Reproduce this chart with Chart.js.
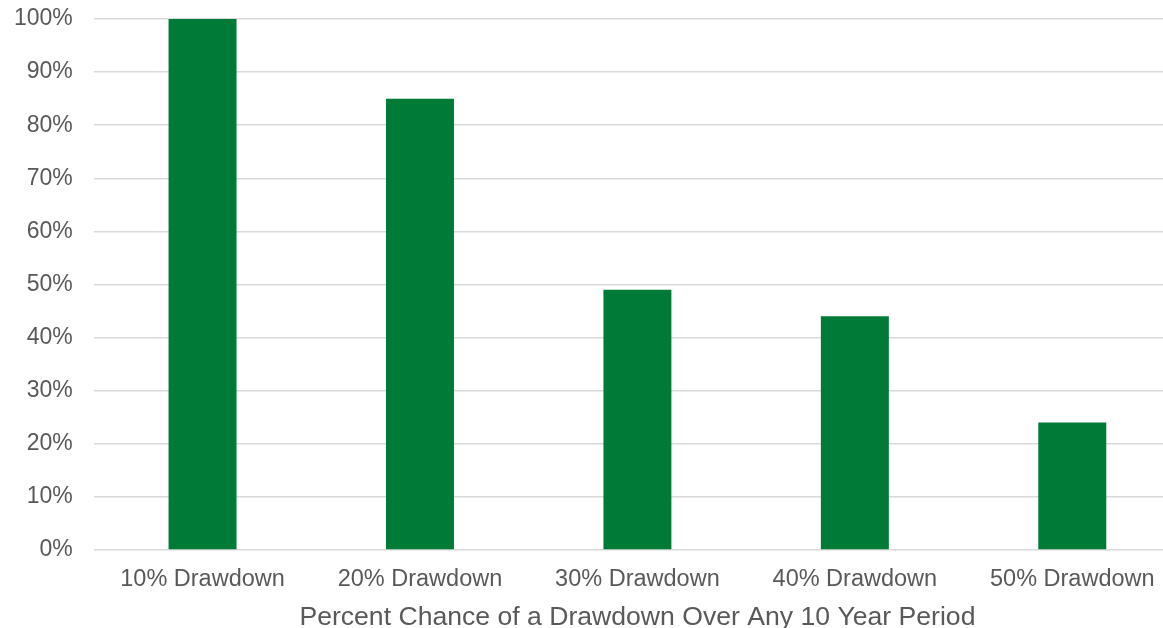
<!DOCTYPE html>
<html>
<head>
<meta charset="utf-8">
<script src="https://cdn.jsdelivr.net/npm/chart.js@4"></script>
<style>
  html, body { margin: 0; padding: 0; background: #ffffff; overflow: hidden; width: 1163px; height: 628px; }
  #wrap { width: 1181px; height: 628px; }
</style>
</head>
<body>
<div id="wrap"><canvas id="c" width="1181" height="628"></canvas></div>
<script>
const categories = ['10% Drawdown', '20% Drawdown', '30% Drawdown', '40% Drawdown', '50% Drawdown'];
const chanceValues = [100, 85, 49, 44, 24];
const yTickValues = [0, 10, 20, 30, 40, 50, 60, 70, 80, 90, 100];
const xAxisTitle = 'Percent Chance of a Drawdown Over Any 10 Year Period';

const textColor = '#595959';
const fontFamily = '"Liberation Sans", Arial, sans-serif';

new Chart(document.getElementById('c'), {
  type: 'bar',
  data: {
    labels: categories,
    datasets: [{
      data: chanceValues,
      backgroundColor: '#007A37',
      borderWidth: 0,
      barPercentage: 1,
      categoryPercentage: 0.3126
    }]
  },
  options: {
    responsive: false,
    animation: false,
    devicePixelRatio: 1,
    layout: { padding: { left: -7, right: 0, top: 19, bottom: -6 } },
    plugins: { legend: { display: false }, tooltip: { enabled: false } },
    scales: {
      x: {
        grid: { display: false },
        border: { display: false },
        ticks: {
          color: textColor,
          font: { family: fontFamily, size: 23.5 },
          padding: 7.5,
          maxRotation: 0,
          autoSkip: false
        },
        title: {
          display: true,
          text: xAxisTitle,
          color: textColor,
          font: { family: fontFamily, size: 26.6 },
          padding: { top: 1, bottom: 0 }
        }
      },
      y: {
        min: 0,
        max: 100,
        afterBuildTicks: (axis) => { axis.ticks = yTickValues.map(v => ({ value: v })); },
        afterFit: (axis) => { axis.paddingTop = 0; axis.paddingBottom = 0; },
        grid: { color: '#d9d9d9', lineWidth: 1.5, drawTicks: false },
        border: { display: false },
        ticks: {
          color: textColor,
          font: { family: fontFamily, size: 23 },
          padding: 21,
          callback: (v) => v + '%'
        }
      }
    }
  }
});
</script>
</body>
</html>
